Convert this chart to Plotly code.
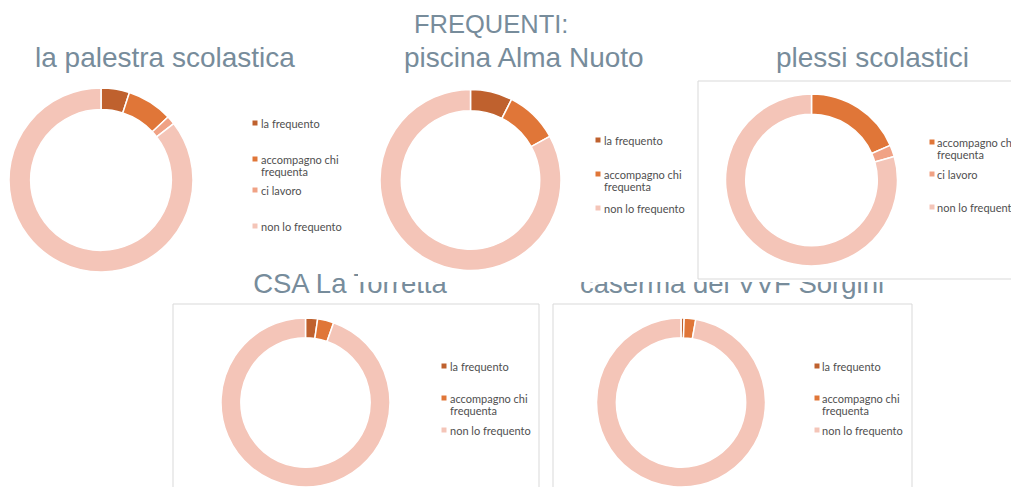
import plotly.graph_objects as go

# ---- data -------------------------------------------------------------
categories = ["la frequento", "accompagno chi frequenta", "ci lavoro", "non lo frequento"]
cat_colors = ["#bf612e", "#e07638", "#f0a285", "#f4c5b8"]

palestra_labels = ["la frequento", "accompagno chi frequenta", "ci lavoro", "non lo frequento"]
palestra_values = [5.0, 8.0, 1.5, 85.5]

piscina_labels = ["la frequento", "accompagno chi frequenta", "non lo frequento"]
piscina_values = [7.5, 9.5, 83.0]

plessi_labels = ["accompagno chi frequenta", "ci lavoro", "non lo frequento"]
plessi_values = [18.4, 2.2, 79.4]

torretta_labels = ["la frequento", "accompagno chi frequenta", "non lo frequento"]
torretta_values = [2.3, 3.1, 94.6]

caserma_labels = ["la frequento", "accompagno chi frequenta", "non lo frequento"]
caserma_values = [0.6, 2.2, 97.2]

main_title = "FREQUENTI:"
chart_titles = ["la palestra scolastica", "piscina Alma Nuoto", "plessi scolastici",
                "CSA La Torretta", "caserma dei VVF Sorgini"]

# ---- layout helpers (pixel space) --------------------------------------
W, H = 1011, 487
TITLE_COLOR = "#778c9b"
TITLE_FONT = "Liberation Sans, Arial, sans-serif"
LEGEND_COLOR = "#4f4f4f"
color_of = dict(zip(categories, cat_colors))

# display label wrapping for the legend
wrap = {"accompagno chi frequenta": ["accompagno chi", "frequenta"]}

panels = [
    # labels, values, centre x, centre y, radius, legend marker x, text x, legend line ys
    dict(labels=palestra_labels, values=palestra_values, cx=101, cy=180, r=92,
         mx=255, tx=259, ly=[123, 159, 190, 226]),
    dict(labels=piscina_labels, values=piscina_values, cx=470.5, cy=180, r=90.5,
         mx=598, tx=602, ly=[140, 174, 208]),
    dict(labels=plessi_labels, values=plessi_values, cx=811.5, cy=180, r=86,
         mx=932, tx=935, ly=[142, 174, 207]),
    dict(labels=torretta_labels, values=torretta_values, cx=305.5, cy=None, r=84.5,
         mx=444, tx=448, ly=[366, 398, 430]),
    dict(labels=caserma_labels, values=caserma_values, cx=681, cy=None, r=84.5,
         mx=817, tx=820, ly=[366, 398, 430]),
]

fig = go.Figure()

# lower chart titles (sit underneath the upper panels' white background)
lower_title_pos = [(350, 286), (732, 286)]
fig.add_trace(go.Scatter(
    x=[p[0] for p in lower_title_pos], y=[p[1] for p in lower_title_pos],
    text=chart_titles[3:], mode="text", textposition="middle center",
    textfont=dict(family=TITLE_FONT, size=27.5, color=TITLE_COLOR),
    hoverinfo="skip", showlegend=False, xaxis="x", yaxis="y"))

# white background of the upper-right panels
fig.add_trace(go.Scatter(
    x=[358, W, W, 358, 358], y=[0, 0, 282, 282, 0], mode="lines",
    fill="toself", fillcolor="white", line=dict(width=0, color="white"),
    hoverinfo="skip", showlegend=False, xaxis="x", yaxis="y"))

annotations = []
shapes = []

for p in panels:
    r = p["r"]
    x0 = (p["cx"] - r) / W
    x1 = (p["cx"] + r) / W
    if p["cy"] is None:
        # bottom row: donut runs to the lower edge of the page
        y0, y1 = 0.0, (2 * r) / H
    else:
        y0 = (H - (p["cy"] + r)) / H
        y1 = (H - (p["cy"] - r)) / H
    fig.add_trace(go.Pie(
        labels=p["labels"], values=p["values"],
        marker=dict(colors=[color_of[l] for l in p["labels"]],
                    line=dict(color="white", width=1.5)),
        hole=0.765, sort=False, direction="clockwise", rotation=0,
        textinfo="none", hoverinfo="label+percent", showlegend=False,
        domain=dict(x=[x0, x1], y=[y0, y1])))

    # legend entries
    for lab, y in zip(p["labels"], p["ly"]):
        shapes.append(dict(type="rect", xref="x", yref="y",
                           x0=p["mx"] - 2.5, x1=p["mx"] + 2.5, y0=y - 2.5, y1=y + 2.5,
                           fillcolor=color_of[lab], line=dict(width=0)))
        for i, line in enumerate(wrap.get(lab, [lab])):
            annotations.append(dict(
                x=p["tx"], y=y + i * 12.5, xref="x", yref="y", text=line,
                showarrow=False, xanchor="left", yanchor="middle",
                font=dict(family="Lato, sans-serif", size=11, color=LEGEND_COLOR)))

# upper titles
upper_titles = [(main_title, 491, 24, 25.5), (chart_titles[0], 165, 57.5, 28),
                (chart_titles[1], 524, 57.5, 28), (chart_titles[2], 872, 57, 28)]
for txt, x, y, size in upper_titles:
    annotations.append(dict(
        x=x, y=y, xref="x", yref="y", text=txt, showarrow=False,
        xanchor="center", yanchor="middle",
        font=dict(family=TITLE_FONT, size=size, color=TITLE_COLOR)))

# panel frames
frame = dict(color="#d9d9d9", width=1)
shapes += [
    dict(type="rect", xref="x", yref="y", x0=698, x1=W + 5, y0=81, y1=279,
         line=frame, fillcolor="rgba(0,0,0,0)", layer="above"),
    dict(type="rect", xref="x", yref="y", x0=173, x1=539, y0=304, y1=H + 5,
         line=frame, fillcolor="rgba(0,0,0,0)", layer="below"),
    dict(type="rect", xref="x", yref="y", x0=553, x1=912, y0=304, y1=H + 5,
         line=frame, fillcolor="rgba(0,0,0,0)", layer="below"),
]

fig.update_layout(
    width=W, height=H,
    margin=dict(l=0, r=0, t=0, b=0),
    paper_bgcolor="white", plot_bgcolor="rgba(0,0,0,0)",
    xaxis=dict(range=[0, W], visible=False, fixedrange=True, domain=[0, 1]),
    yaxis=dict(range=[H, 0], visible=False, fixedrange=True, domain=[0, 1]),
    annotations=annotations, shapes=shapes, showlegend=False,
)

fig.write_html("out.html")
